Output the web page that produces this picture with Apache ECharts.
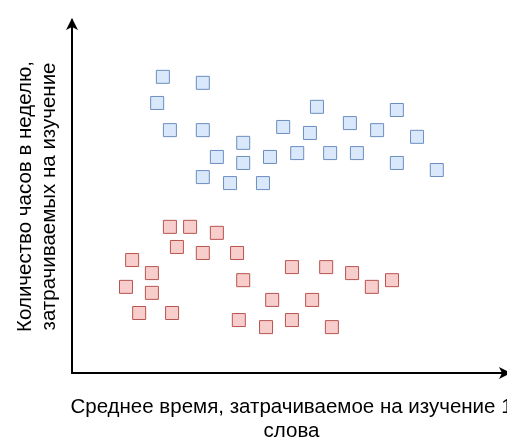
<!DOCTYPE html>
<html>
<head>
<meta charset="utf-8">
<script src="https://cdn.jsdelivr.net/npm/echarts@6/dist/echarts.min.js"></script>
<style>
html,body{margin:0;padding:0;background:#fff;}
#c{width:507px;height:437px;}
</style>
</head>
<body>
<div id="c"></div>
<script>
// Group 1 (blue)
var blueX = [20.7, 29.8, 19.4, 22.3, 29.8, 55.8, 74.0, 48.1, 54.2, 63.3, 69.5, 78.6, 39.0, 33.0, 39.0, 45.1, 51.3, 58.8, 64.9, 74.0, 83.1, 29.8, 36.0, 43.5];
var blueY = [83.9, 82.2, 76.5, 68.8, 68.8, 75.4, 74.5, 69.7, 68.0, 70.8, 68.8, 66.9, 65.2, 61.2, 59.5, 61.2, 62.3, 62.3, 62.3, 59.5, 57.5, 55.5, 53.8, 53.8];
// Group 2 (red)
var redX = [22.3, 26.9, 33.0, 23.9, 29.8, 37.6, 13.7, 18.2, 12.3, 18.2, 15.3, 22.8, 39.0, 50.1, 57.9, 63.8, 68.3, 72.9, 45.6, 54.7, 38.0, 44.2, 50.1, 59.2];
var redY = [41.4, 41.4, 39.7, 35.7, 34.0, 34.0, 32.0, 28.3, 24.4, 22.7, 17.0, 17.0, 26.3, 30.0, 30.0, 28.3, 24.4, 26.3, 20.7, 20.7, 15.0, 13.0, 15.0, 13.0];

var xTitle = "Среднее время, затрачиваемое на изучение 1\nслова";
var yTitle = "Количество часов в неделю,\nзатрачиваемых на изучение";

function zip(xs, ys){ return xs.map(function(v,i){ return [v, ys[i]]; }); }

var font = "'Liberation Sans', Arial, Helvetica, sans-serif";
function axisLine(offset){
  return { show: true, onZero: false, symbol: ['none','arrow'], symbolSize: [9, 12], symbolOffset: [0, offset], lineStyle: { color: '#000', width: 2 } };
}
var axisCommon = {
  type: 'value', min: 0, max: 100,
  axisTick: { show: false }, axisLabel: { show: false }, splitLine: { show: false }
};

var chart = echarts.init(document.getElementById('c'), null, {renderer: 'canvas'});
chart.setOption({
  animation: false,
  grid: { left: 72, right: -4, top: 20, bottom: 64, containLabel: false, outerBoundsMode: 'none' },
  xAxis: Object.assign({}, axisCommon, {
    axisLine: axisLine(0),
    name: xTitle, nameLocation: 'middle', nameGap: 22,
    nameTextStyle: { fontFamily: font, fontSize: 20.5, color: '#000', lineHeight: 24, verticalAlign: 'top' }
  }),
  yAxis: Object.assign({}, axisCommon, {
    axisLine: axisLine(2),
    name: yTitle, nameLocation: 'middle', nameGap: 11,
    nameTextStyle: { fontFamily: font, fontSize: 20.5, color: '#000', lineHeight: 24 }
  }),
  series: [
    { type: 'scatter', data: zip(blueX, blueY), symbol: 'rect', symbolSize: 13,
      itemStyle: { color: '#dae8fc', borderColor: '#6c8ebf', borderWidth: 1, opacity: 1 } },
    { type: 'scatter', data: zip(redX, redY), symbol: 'rect', symbolSize: 13,
      itemStyle: { color: '#f8cecc', borderColor: '#b85450', borderWidth: 1, opacity: 1 } }
  ]
});
</script>
</body>
</html>
